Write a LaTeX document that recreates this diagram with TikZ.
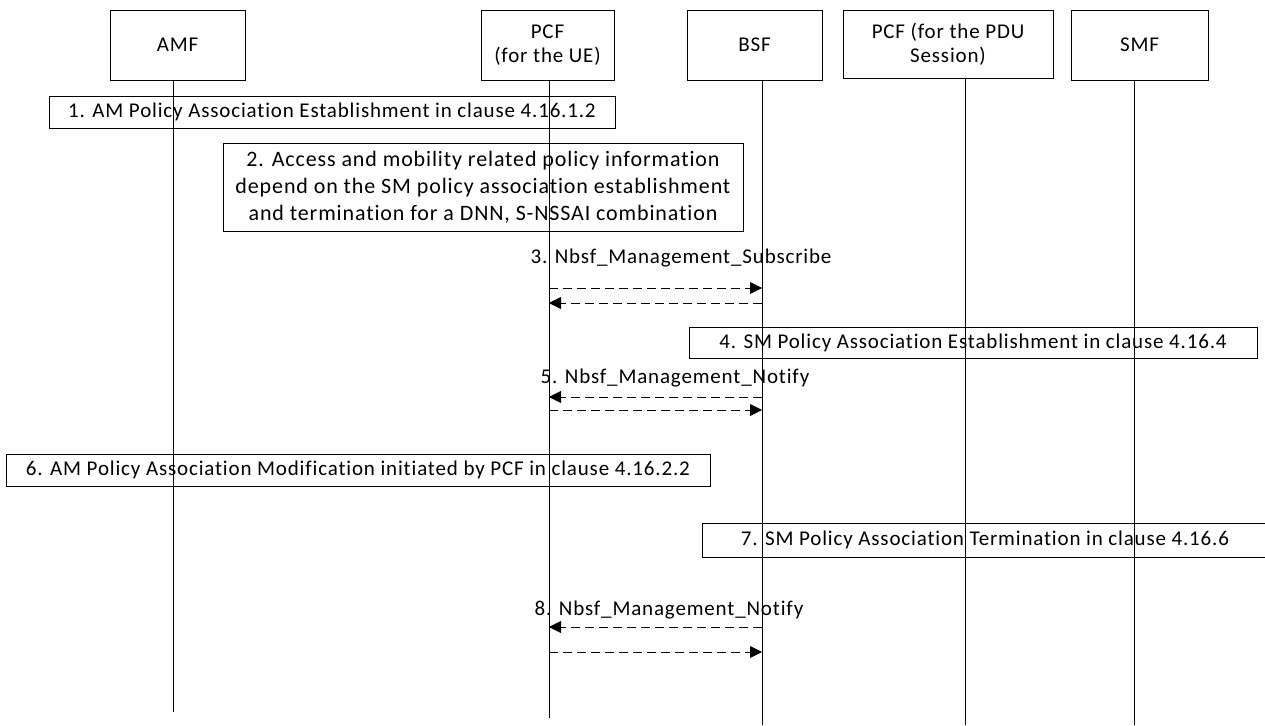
\documentclass[tikz,border=0pt]{standalone}
\usepackage{fontspec}
\setmainfont{Carlito}[LetterSpace=4, Ligatures={NoCommon}]
\usetikzlibrary{arrows.meta}
\begin{document}
\begin{tikzpicture}[x=1pt,y=-1pt,
  font=\fontsize{21}{24}\selectfont,
  ent/.style={draw, line width=0.9pt, align=center, inner sep=0pt},
  lifeline/.style={line width=0.9pt},
  msg/.style={line width=0.9pt, dash pattern=on 9pt off 5pt, -{Triangle[length=12pt,width=12pt]}},
  lbl/.style={inner sep=0pt}]
\useasboundingbox (0,0) rectangle (1265,725);
% entities
\node[ent, minimum width=135, minimum height=70] (amf) at (177.5,45) {AMF};
\node[ent, minimum width=133, minimum height=70] (pcfue) at (547.5,45) {PCF\\(for the UE)};
\node[ent, minimum width=135, minimum height=70] (bsf) at (754.5,45) {BSF};
\node[ent, minimum width=210, minimum height=68] (pcfpdu) at (948,44) {PCF (for the PDU\\Session)};
\node[ent, minimum width=137, minimum height=70] (smf) at (1139.5,45) {SMF};
% lifeline ends
\coordinate (amfE) at (173,712);
\coordinate (pcfE) at (549,718);
\coordinate (bsfE) at (762,725);
\coordinate (pduE) at (965,725);
\coordinate (smfE) at (1134,725);
\draw[lifeline] (amfE |- amf.south) -- (amfE);
\draw[lifeline] (pcfE |- pcfue.south) -- (pcfE);
\draw[lifeline] (bsfE |- bsf.south) -- (bsfE);
\draw[lifeline] (pduE |- pcfpdu.south) -- (pduE);
\draw[lifeline] (smfE |- smf.south) -- (smfE);
% step boxes
\node[ent, minimum width=566, minimum height=32] (s1) at (332,112) {1. AM Policy Association Establishment in clause 4.16.1.2};
\node[ent, minimum width=520, minimum height=88, font=\fontsize{22}{27}\selectfont] (s2) at (483,187) {2. Access and mobility related policy information\\depend on the SM policy association establishment\\and termination for a DNN, S-NSSAI combination};
\node[lbl] (l3) at (681,258) {3. Nbsf\_Management\_Subscribe};
\draw[msg] (pcfE |- 0,288) -- (bsfE |- 0,288);
\draw[msg] (bsfE |- 0,303) -- (pcfE |- 0,303);
\node[ent, minimum width=568, minimum height=31] (s4) at (973,342.5) {4. SM Policy Association Establishment in clause 4.16.4};
\node[lbl] (l5) at (675,378) {5. Nbsf\_Management\_Notify};
\draw[msg] (bsfE |- 0,397) -- (pcfE |- 0,397);
\draw[msg] (pcfE |- 0,410) -- (bsfE |- 0,410);
\node[ent, minimum width=704, minimum height=32] (s6) at (358,470) {6. AM Policy Association Modification initiated by PCF in clause 4.16.2.2};
\draw[line width=0.9pt] (1268,523) -- (702,523) -- (702,557) -- (1268,557);
\node[lbl] (s7) at (985,540) {7. SM Policy Association Termination in clause 4.16.6};
\node[lbl] (l8) at (669,610) {8. Nbsf\_Management\_Notify};
\draw[msg] (bsfE |- 0,627) -- (pcfE |- 0,627);
\draw[msg] (pcfE |- 0,652) -- (bsfE |- 0,652);
\end{tikzpicture}
\end{document}
